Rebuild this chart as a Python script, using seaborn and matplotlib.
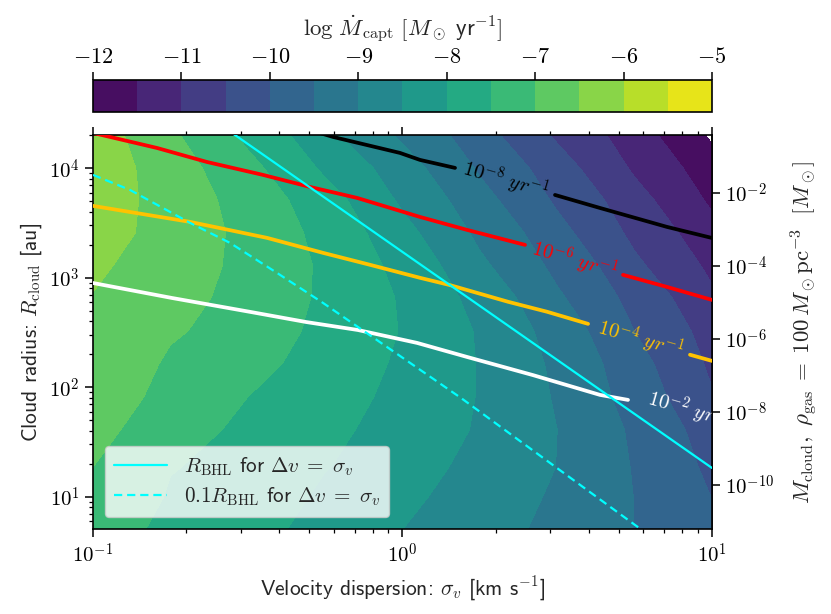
import numpy as np
import matplotlib
matplotlib.use("Agg")
import matplotlib.pyplot as plt
from matplotlib.ticker import LogLocator, NullLocator, FuncFormatter
import seaborn as sns

# grid of the filled map (log10 values)
log_sigma = [-1.0, -0.75, -0.5, -0.25, 0.0, 0.25, 0.5, 0.75, 1.0]
log_rcloud = [0.70, 1.00, 1.27, 1.61, 1.91, 2.21, 2.51, 2.82, 3.11, 3.41, 3.71, 4.00, 4.30]
# log Mdot_capt, one row per log_rcloud, one column per log_sigma
mdot_rows = [
    [-7.34, -7.60, -7.87, -8.17, -8.50, -8.82, -9.15, -9.51, -9.98],
    [-7.09, -7.55, -7.80, -8.07, -8.41, -8.74, -9.08, -9.51, -10.01],
    [-7.00, -7.47, -7.74, -7.98, -8.32, -8.66, -9.01, -9.54, -10.13],
    [-6.88, -7.29, -7.64, -7.90, -8.21, -8.56, -9.00, -9.60, -10.28],
    [-6.80, -7.14, -7.50, -7.81, -8.15, -8.53, -9.06, -9.75, -10.47],
    [-6.74, -7.06, -7.37, -7.72, -8.09, -8.53, -9.12, -9.85, -10.60],
    [-6.60, -6.94, -7.28, -7.63, -8.03, -8.56, -9.25, -10.00, -10.74],
    [-6.51, -6.83, -7.20, -7.59, -8.06, -8.71, -9.44, -10.20, -10.93],
    [-6.43, -6.77, -7.15, -7.59, -8.19, -8.92, -9.65, -10.42, -11.13],
    [-6.30, -6.72, -7.15, -7.68, -8.37, -9.13, -9.87, -10.64, -11.37],
    [-6.25, -6.73, -7.23, -7.82, -8.60, -9.36, -10.09, -10.85, -11.60],
    [-6.22, -6.80, -7.38, -8.10, -8.82, -9.57, -10.32, -11.08, -11.83],
    [-6.28, -6.93, -7.63, -8.40, -9.09, -9.84, -10.58, -11.31, -12.08],
]
levels = np.arange(-12, -4.99, 0.5)
cbar_ticks = [-12, -11, -10, -9, -8, -7, -6, -5]

# rate lines (sigma in km/s, R in au); each has a gap where its label sits
black_sig_a = [0.54, 0.596, 0.981, 1.139, 1.478]
black_r_a = [21000, 19320, 13800, 11910, 10070]
black_sig_b = [3.110, 4.346, 7.154, 10.0]
black_r_b = [5700, 4335, 2911, 2307]

red_sig_a = [0.1, 0.161, 0.2335, 0.3542, 0.5025, 0.7129, 1.139, 1.616, 2.488]
red_r_a = [21000, 15310, 11400, 8690, 6745, 5358, 3589, 2735, 1995]
red_sig_b = [5.157, 7.154, 10.0]
red_r_b = [1062, 824, 627]

gold_sig_a = [0.1, 0.2058, 0.3649, 0.5535, 0.7852, 1.139, 1.413, 2.193, 2.930, 3.977]
gold_r_a = [4529, 3236, 2312, 1687, 1312, 998, 861, 603, 489, 379]
gold_sig_b = [8.490, 10.0]
gold_r_b = [198, 174]

white_sig = [0.1, 0.180, 0.324, 0.488, 0.718, 1.114, 1.616, 2.640, 4.346, 5.353]
white_r = [895, 653, 486, 394, 333, 254, 189, 129, 85.1, 76.6]

# inline labels of the rate lines
label_sig = [2.144, 3.58, 5.85, 8.49]
label_r = [7660, 1424, 270, 60.8]
label_txt = [r"$10^{-8}\ yr^{-1}$", r"$10^{-6}\ yr^{-1}$",
             r"$10^{-4}\ yr^{-1}$", r"$10^{-2}\ yr^{-1}$"]
label_col = ["black", "red", "#ffc300", "white"]

# Bondi-Hoyle-Lyttleton radius lines
bhl_sig = [0.267, 10.0]
bhl_r = [23280, 18.3]
bhl01_sig = [0.1, 0.1316, 0.2058, 0.2771, 0.3930, 0.5535, 1.545, 5.929, 6.546]
bhl01_r = [8690, 6339, 3170, 2080, 1107, 589, 79.8, 4.98, 4.04]

xlim = (0.1, 10)
ylim = (5.07, 2.01e4)

sns.set_style("ticks")
plt.rcParams.update({
    "font.family": ["DejaVu Sans"],
    "mathtext.fontset": "cm",
    "font.size": 15,
    "axes.linewidth": 1.2,
    "xtick.major.size": 6, "ytick.major.size": 6,
    "xtick.minor.size": 3.2, "ytick.minor.size": 3.2,
    "xtick.major.width": 1.1, "ytick.major.width": 1.1,
    "xtick.minor.width": 0.9, "ytick.minor.width": 0.9,
    "axes.edgecolor": "black",
    "xtick.color": "black", "ytick.color": "black",
})
sans = ["cmss10", "DejaVu Sans"]

def pow10(v, pos):
    return rf"$10^{{{int(round(np.log10(v)))}}}$"

fig = plt.figure(figsize=(8.31, 6.14), dpi=100)
ax = fig.add_axes([0.1119, 0.1384, 0.7449, 0.6417])
cax = fig.add_axes([0.1119, 0.8176, 0.7449, 0.0521])

S, R = np.meshgrid(10 ** np.array(log_sigma), 10 ** np.array(log_rcloud))
cf = ax.contourf(S, R, np.array(mdot_rows), levels=levels, cmap="viridis")

lw = 2.7
for xs, ys, c in [(black_sig_a, black_r_a, "black"), (black_sig_b, black_r_b, "black"),
                  (red_sig_a, red_r_a, "red"), (red_sig_b, red_r_b, "red"),
                  (gold_sig_a, gold_r_a, "#ffc300"), (gold_sig_b, gold_r_b, "#ffc300"),
                  (white_sig, white_r, "white")]:
    sns.lineplot(x=xs, y=ys, ax=ax, color=c, lw=lw, sort=False, estimator=None, zorder=3)

for s, r, t, c in zip(label_sig, label_r, label_txt, label_col):
    ax.text(s, r, t, color=c, fontsize=15, rotation=-16, ha="center", va="center",
            rotation_mode="anchor", clip_on=True, zorder=4)

sns.lineplot(x=bhl_sig, y=bhl_r, ax=ax, color="cyan", lw=1.6, sort=False, estimator=None,
             zorder=5, label=r"$R_{\rm BHL}$ for $\Delta v\;=\;\sigma_v$")
sns.lineplot(x=bhl01_sig, y=bhl01_r, ax=ax, color="cyan", lw=1.6, ls=(0, (3.7, 2.2)),
             sort=False, estimator=None, zorder=5,
             label=r"$0.1R_{\rm BHL}$ for $\Delta v\;=\;\sigma_v$")

ax.set_xscale("log")
ax.set_yscale("log")
ax.set_xlim(*xlim)
ax.set_ylim(*ylim)
ax.xaxis.set_major_formatter(FuncFormatter(pow10))
ax.yaxis.set_major_formatter(FuncFormatter(pow10))
ax.tick_params(which="both", direction="out", top=True, right=False)
ax.tick_params(which="major", labelsize=15)
ax.set_xlabel(r"Velocity dispersion: $\sigma_v$ [km s$^{-1}$]", family=sans,
              fontsize=15.5, labelpad=6)
ax.set_ylabel(r"Cloud radius: $R_{\rm cloud}$ [au]", family=sans, fontsize=15.5, labelpad=4)
ax.legend(loc="lower left", prop={"family": sans, "size": 15.2}, handlelength=2.5,
          framealpha=0.8, borderaxespad=0.55, borderpad=0.45, labelspacing=0.35)

# secondary axis: cloud mass at rho_gas = 100 Msun/pc^3
au_per_pc = 206265.0
def r_to_m(r):
    return 4.0 / 3.0 * np.pi * 100.0 * (np.asarray(r) / au_per_pc) ** 3
def m_to_r(m):
    return au_per_pc * (np.clip(np.asarray(m), 1e-300, None) * 3.0 / (4.0 * np.pi * 100.0)) ** (1 / 3)

ax2 = ax.secondary_yaxis("right", functions=(r_to_m, m_to_r))
ax2.yaxis.set_major_locator(LogLocator(base=100))
ax2.yaxis.set_minor_locator(NullLocator())
ax2.yaxis.set_major_formatter(FuncFormatter(pow10))
ax2.tick_params(direction="out", labelsize=15)
ax2.set_ylabel(r"$M_{\rm cloud},\ \rho_{\rm gas}\;=\;100\,M_\odot{\rm pc}^{-3}\ \ [M_\odot]$",
               fontsize=16.5, labelpad=10)

cb = fig.colorbar(cf, cax=cax, orientation="horizontal", ticks=cbar_ticks)
cax.xaxis.set_ticks_position("top")
cax.xaxis.set_label_position("top")
cax.xaxis.set_major_formatter(FuncFormatter(lambda v, p: rf"${int(round(v))}$"))
cax.tick_params(direction="out", length=6, labelsize=16)
cb.outline.set_linewidth(1.2)
cb.set_label(r"$\log\,\dot{M}_{\rm capt}\ [M_\odot\ \mathsf{yr}^{-1}]$", fontsize=16.5,
             labelpad=8)

fig.savefig("out.png", dpi=100)
